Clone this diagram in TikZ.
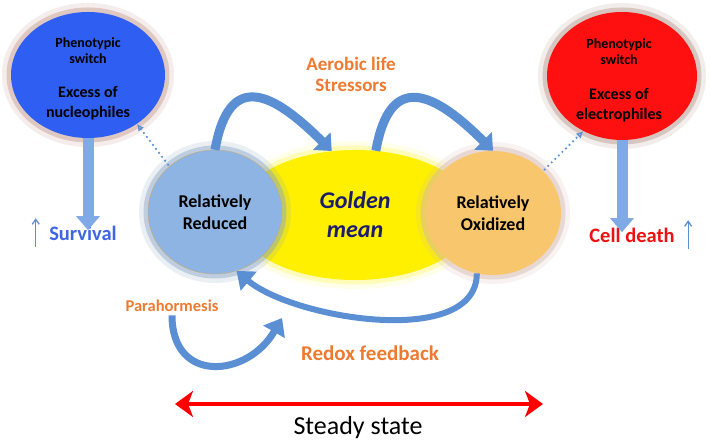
\documentclass[tikz,border=0pt]{standalone}
\usepackage{fontspec}
\setmainfont{Carlito}
\usetikzlibrary{
  arrows.meta,
  shapes.geometric,
  positioning,
  calc
}
\definecolor{rmNuc}{HTML}{2F5EF2}
\definecolor{rmEle}{HTML}{FF1010}
\definecolor{rmRed}{HTML}{8DB4E2}
\definecolor{rmOxi}{HTML}{F8C66C}
\definecolor{rmGold}{HTML}{FFF000}
\definecolor{rmNavy}{HTML}{1C1C6C}
\definecolor{rmOrange}{HTML}{EE7A30}
\definecolor{rmSurv}{HTML}{3F64E6}
\definecolor{rmDeath}{HTML}{EE1111}
\definecolor{rmArrow}{HTML}{5B8FD3}
\definecolor{rmArrowLight}{HTML}{7FAAE6}
\definecolor{rmRose}{HTML}{C49A90}
\tikzset{
  blob/.style={ellipse, inner sep=0pt, align=center},
  halo/.style={
    preaction={draw=#1, line width=18pt, opacity=.18},
    preaction={draw=#1, line width=9pt, opacity=.45}
  },
  switchtxt/.style={font=\bfseries\fontsize{14}{16}\selectfont, align=center},
  excesstxt/.style={font=\bfseries\fontsize{16}{20}\selectfont, align=center},
  statetxt/.style={font=\bfseries\fontsize{18}{22}\selectfont, align=center},
  cuetxt/.style={font=\bfseries\fontsize{19}{21}\selectfont, text=rmOrange, align=center},
  outcome/.style={font=\bfseries\fontsize{20.5}{24}\selectfont},
  bendarr/.style={line width=9pt, draw=rmArrow, -{Triangle[width=24pt,length=14pt]}},
  loopall/.style={line width=6pt, draw=rmArrow, -{Triangle[width=24pt,length=16pt]}},
  blockarr/.style={line width=11pt, draw=rmArrowLight, -{Triangle[width=23pt,length=14pt]}},
  dotarr/.style={dash pattern=on 0pt off 5pt, line width=2.4pt, line cap=round,
    rmArrow, -{Latex[open,length=7pt,width=7pt]}},
  thinup/.style={-{Straight Barb[length=5pt,width=7pt]}, line width=1.3pt, rmArrow},
  steady/.style={line width=4pt, red, {Stealth[length=18pt,width=26pt,inset=5pt]}-{Stealth[length=18pt,width=26pt,inset=5pt]}}
}

\begin{document}
\begin{tikzpicture}[x=1pt, y=1pt]
  \useasboundingbox (0,0) rectangle (709,443);
  % outer states
  \node[blob, fill=rmNuc, halo=rmRose, minimum width=154pt, minimum height=126pt] (nuc) at (88,368) {};
  \node[blob, fill=rmEle, halo=rmRose!80!gray, minimum width=150pt, minimum height=128pt] (ele) at (622,367) {};
  \node[switchtxt] (nucsw) at (88,392) {Phenotypic\\switch};
  \node[excesstxt] (nucex) at (88,340) {Excess of\\nucleophiles};
  \node[switchtxt] (elesw) at (619,391) {Phenotypic\\switch};
  \node[excesstxt] (eleex) at (619,338) {Excess of\\electrophiles};
  % central states
  \node[blob, fill=rmGold, halo=rmGold!50, minimum width=240pt, minimum height=130pt,
    font=\bfseries\itshape\fontsize{24}{29}\selectfont, text=rmNavy] (gold) at (355,228) {Golden\\mean};
  \node[blob, fill=rmRed, draw=rmOxi!60!gray, thin, halo=rmRed!70!gray,
    minimum width=134pt, minimum height=124pt, statetxt] (red) at (215,231) {Relatively\\Reduced};
  \node[blob, fill=rmOxi, halo=rmRose!70, minimum width=136pt, minimum height=124pt,
    statetxt] (oxi) at (493,230) {Relatively\\Oxidized};
  % labels
  \node[cuetxt] (aero) at (351,369) {Aerobic life\\Stressors};
  \node[cuetxt, font=\bfseries\fontsize{16.5}{18}\selectfont] (para) at (172,137) {Parahormesis};
  \node[cuetxt, font=\bfseries\fontsize{21}{24}\selectfont] (fbk) at (370,90) {Redox feedback};
  \node[outcome, text=rmSurv] (surv) at (83,210) {Survival};
  \node[outcome, text=rmDeath] (cd) at (632,208) {Cell death};
  \node[font=\fontsize{26}{30}\selectfont] (ss) at (358,15) {Steady state};
  \coordinate (hook) at (282,125);
  \coordinate (ssl) at (175,39);
  \coordinate (ssr) at (543,39);
  % arrows
  \draw[bendarr] (red.north) to[out=80, in=135, looseness=1.8] (gold.110);
  \draw[bendarr] (gold.72) to[out=80, in=135, looseness=1.8] (oxi.north);
  \draw[loopall] (oxi.-105) to[out=-90, in=-40, looseness=0.8] (red.-70);
  \draw[loopall, line width=7pt] (para.south) to[out=-90, in=-120, looseness=1.6] (hook);
  \draw[blockarr] (nuc.south) -- ([yshift=-8pt]nuc.south |- surv.north);
  \draw[blockarr] (ele.south) -- ([yshift=-8pt]ele.south |- cd.north);
  \draw[dotarr, shorten <=2pt] (red.135) -- (nuc.-45);
  \draw[dotarr, shorten <=2pt] (oxi.40) -- (ele.-125);
  \draw[thinup] ([xshift=-10pt,yshift=-3pt]surv.south west) -- ([xshift=-10pt,yshift=4pt]surv.north west);
  \draw[thinup] ([xshift=10pt,yshift=-3pt]cd.south east) -- ([xshift=10pt,yshift=4pt]cd.north east);
  \draw[steady] (ssl) -- (ssr);
\end{tikzpicture}
\end{document}
